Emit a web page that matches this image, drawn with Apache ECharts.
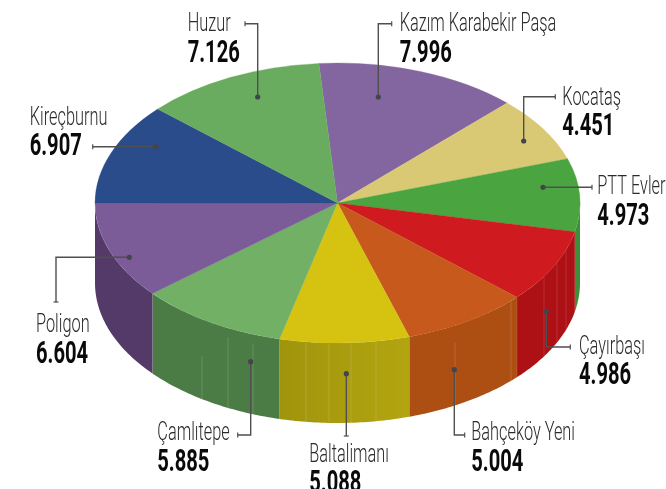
<!DOCTYPE html>
<html>
<head>
    <meta charset="utf-8">
    <title>Pie</title>
    <script src="https://cdn.jsdelivr.net/npm/echarts@6/dist/echarts.min.js"></script>
    <style>
        html,body {margin:0;padding:0;background:#fff;overflow:hidden}
        #main {width:666px;height:489px}
    </style>
</head>
<body>
<div id="main"></div>
<script>
    // clockwise from the top
    var names = ['Kazım Karabekir Paşa', 'Kocataş', 'PTT Evler', 'Çayırbaşı', 'Bahçeköy Yeni', 'Baltalimanı', 'Çamlıtepe', 'Poligon', 'Kireçburnu', 'Huzur'];
    var values = [7.996, 4.451, 4.973, 4.986, 5.004, 5.088, 5.885, 6.604, 6.907, 7.126];

    var topColors = ['#8366a0', '#dac974', '#4aa541', '#cf1b1f', '#c8591c', '#d6c311', '#72b066', '#7c5c98', '#2a4c8a', '#6aac5f'];
    var wallLeft = ['#5b4470', '#9c8d50', '#3f8f3a', '#ad1015', '#ad4f13', '#a0940c', '#4c7c45', '#533a69', '#1d3560', '#4c7c45'];
    var wallRight = ['#5b4470', '#9c8d50', '#3f8f3a', '#ad1015', '#ad4f13', '#b3a510', '#4c7c45', '#533a69', '#1d3560', '#4c7c45'];

    // thin joints on the wall: x in px, and how far down the wall they start
    var seams = [[], [], [], [[544, 0], [557, 0], [566, 0], [517, 0]], [[455, 0.2], [511, 0], [409, 0]], [[306, 0], [329, 0], [351, 0], [376, 0]], [[152, 0], [202, 0.45], [228, 0.1], [253, 0.1]], [], [], []];

    // leader: dot, elbow points, then the end tick. label: x, name baseline, value baseline
    var leaders = [
        [[378.3, 97], [378.3, 23.7], [391.7, 23.7]],
        [[523.7, 141], [523.7, 96.7], [555.3, 96.7]],
        [[543, 187.3], [592, 187.3]],
        [[546.3, 311.3], [546.3, 347], [570.3, 347]],
        [[454.3, 369.7], [454.3, 435], [464.7, 435]],
        [[346.3, 373.7], [346.3, 436]],
        [[250.7, 361.7], [250.7, 435], [237.7, 435]],
        [[129.3, 257.3], [56, 257.3], [56, 302]],
        [[155.7, 146.7], [92.7, 146.7]],
        [[257.7, 97], [257.7, 23.7], [245, 23.7]]
    ];
    var labelPos = [
        [399.7, 31.3, 62.3], [562.3, 105, 136], [597.3, 194.7, 226], [579, 354, 384.7], [471.3, 440, 471.3],
        [309.3, 462, 493], [157.3, 440, 471.3], [36, 332.7, 363.7], [29.7, 125, 156], [187.7, 31.7, 62.3]
    ];

    var cx = 337.5, cy = 203, rx = 242.5, ry = 140, depth = 80;
    var startDeg = 355.6;

    var total = values.reduce(function (a, b) { return a + b; }, 0);
    var bounds = [startDeg];
    values.forEach(function (v, i) { bounds.push(bounds[i] + v / total * 360); });

    function rad(d) { return d * Math.PI / 180; }
    function rim(d, off) {
        return [cx + rx * Math.sin(rad(d)), cy - ry * Math.cos(rad(d)) + off];
    }

    function renderWall(params) {
        var i = params.dataIndex;
        // only the part between 90 and 270 faces the viewer
        var a0 = bounds[i], a1 = bounds[i + 1];
        if (a0 >= 360) { a0 -= 360; a1 -= 360; }
        a0 = Math.max(a0, 90); a1 = Math.min(a1, 270);
        if (a1 <= a0) return null;
        var pts = [], pts2 = [], n = 40;
        for (var k = 0; k <= n; k++) {
            var a = a0 + (a1 - a0) * k / n;
            pts.push(rim(a, 0));
            pts2.unshift(rim(a, depth));
        }
        var children = [{
            type: 'polygon',
            shape: {points: pts.concat(pts2)},
            style: {
                fill: new echarts.graphic.LinearGradient(0, 0, 1, 0, [
                    {offset: 0, color: wallLeft[i]},
                    {offset: 1, color: wallRight[i]}
                ]),
                stroke: null
            }
        }];
        seams[i].forEach(function (s) {
            var t = (s[0] - cx) / rx;
            var y = cy + ry * Math.sqrt(1 - t * t);
            children.push({
                type: 'line',
                shape: {x1: s[0], y1: y + 1 + s[1] * depth, x2: s[0], y2: y + depth},
                style: {stroke: 'rgba(255,255,255,0.14)', lineWidth: 1}
            });
        });
        return {type: 'group', children: children};
    }

    function renderTop(params) {
        var i = params.dataIndex;
        return {
            type: 'sector',
            x: cx,
            y: cy,
            scaleY: ry / rx,
            shape: {
                cx: 0, cy: 0, r0: 0, r: rx,
                startAngle: rad(bounds[i] - 90),
                endAngle: rad(bounds[i + 1] - 90),
                clockwise: true
            },
            style: {fill: topColors[i], stroke: topColors[i], lineWidth: 0.4}
        };
    }

    function renderLabel(params, api) {
        var i = params.dataIndex;
        var pts = leaders[i], last = pts[pts.length - 1], prev = pts[pts.length - 2];
        var horiz = prev[1] === last[1];
        var p = labelPos[i];
        return {
            type: 'group',
            children: [
                {type: 'polyline', shape: {points: pts}, style: {stroke: '#4f4f4f', lineWidth: 1.4, fill: null}},
                {type: 'line', shape: horiz
                    ? {x1: last[0], y1: last[1] - 2.5, x2: last[0], y2: last[1] + 2.5}
                    : {x1: last[0] - 2.5, y1: last[1], x2: last[0] + 2.5, y2: last[1]},
                    style: {stroke: '#4f4f4f', lineWidth: 1.2}},
                {type: 'circle', shape: {cx: pts[0][0], cy: pts[0][1], r: 2.6}, style: {fill: '#44444c'}},
                {type: 'text', x: p[0], y: p[1] + 6, scaleX: 0.653, style: {
                    text: names[i], fill: '#2b2b2b', textAlign: 'left', textVerticalAlign: 'bottom',
                    font: '300 25px Roboto'
                }},
                {type: 'text', x: p[0], y: p[2] + 7, scaleX: 0.65, style: {
                    text: api.value(0).toFixed(3), fill: '#0a0a0a', textAlign: 'left', textVerticalAlign: 'bottom',
                    font: 'bold 31px Roboto'
                }}
            ]
        };
    }

    var seriesData = values.map(function (v) { return [v]; });
    var chart = echarts.init(document.getElementById('main'));
    chart.setOption({
        animation: false,
        series: [
            {type: 'custom', coordinateSystem: 'none', z: 1, silent: true, renderItem: renderWall, data: seriesData},
            {type: 'custom', coordinateSystem: 'none', z: 2, silent: true, renderItem: renderTop, data: seriesData},
            {type: 'custom', coordinateSystem: 'none', z: 3, silent: true, renderItem: renderLabel, data: seriesData}
        ]
    });
</script>
</body>
</html>
